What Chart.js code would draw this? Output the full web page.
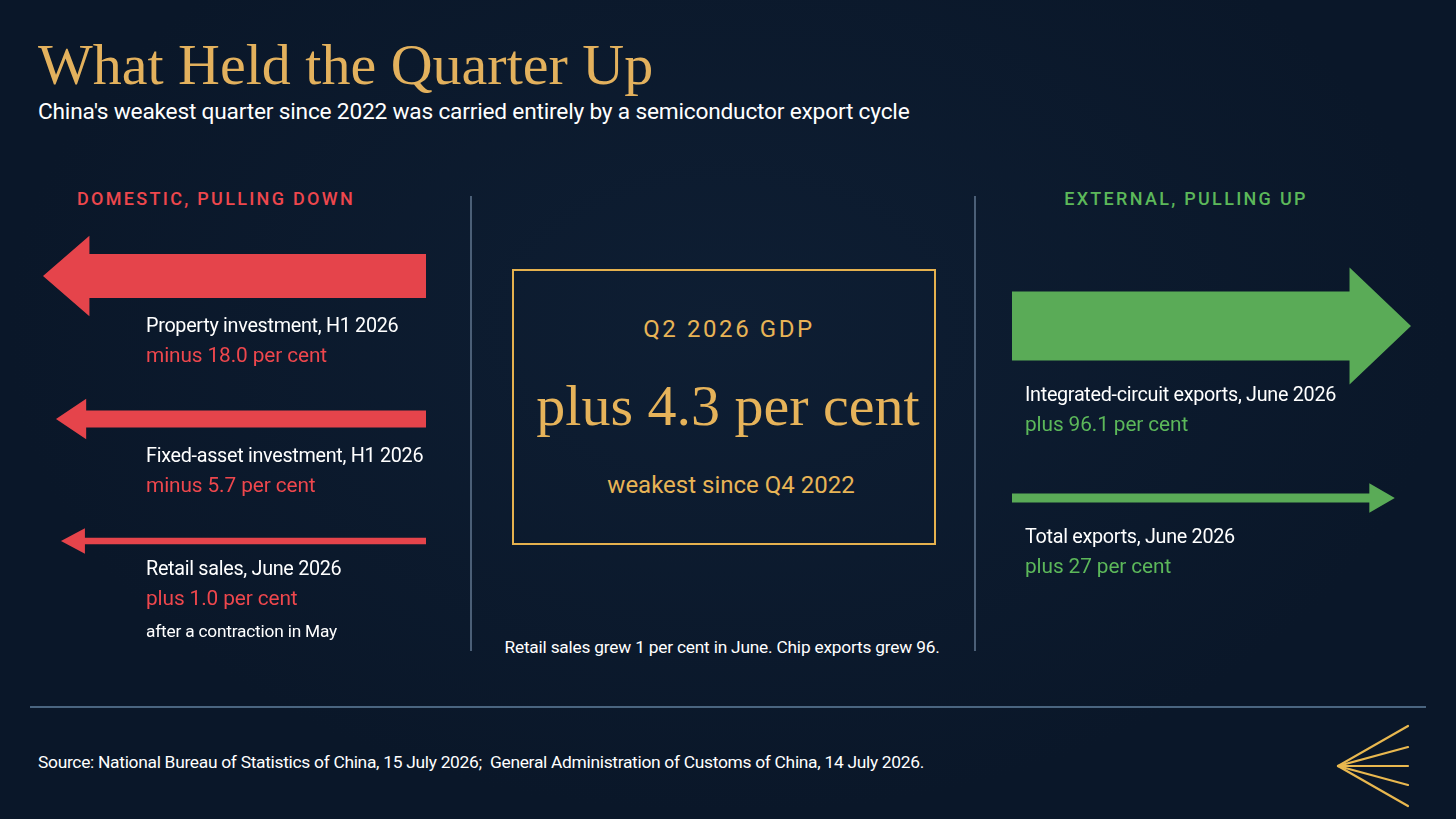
<!DOCTYPE html>
<html>
<head>
<meta charset="utf-8">
<title>What Held the Quarter Up</title>
<script src="https://cdn.jsdelivr.net/npm/chart.js@4.4.1/dist/chart.umd.min.js"></script>
<style>
  html, body { margin: 0; padding: 0; background: #0b192b; }
  #page {
    position: relative; width: 1456px; height: 819px; overflow: hidden;
    background: radial-gradient(ellipse at 50% 40%, #0e1e33 0%, #0a1729 70%, #0a1729 100%);
    font-family: Roboto, "Noto Sans", sans-serif; color: #fff;
  }
  .t { position: absolute; white-space: nowrap; line-height: 1; }
  .title { left: 38px; top: 36px; font-family: "Liberation Serif", "DejaVu Serif", serif; font-size: 58px; color: #e3b15d; }
  .sub { left: 38px; top: 101px; font-size: 22.7px; letter-spacing: -0.2px; }
  .head { top: 190px; font-size: 18px; font-weight: 500; letter-spacing: 2.3px; transform: translateX(-50%); }
  .red { color: #ee474d; }
  .green { color: #5cb85a; }
  .gold { color: #e8b456; }
  .lbl { font-size: 19.8px; letter-spacing: -0.3px; }
  .val { font-size: 20.8px; letter-spacing: -0.1px; }
  .note { font-size: 17.3px; letter-spacing: -0.2px; }
  .rule-v { position: absolute; width: 1.5px; background: #4b5f77; top: 196px; height: 455px; }
  .rule-h { position: absolute; left: 30px; width: 1396px; top: 706px; height: 1.5px; background: #4a6580; }
  .box { position: absolute; left: 512px; top: 269px; width: 420px; height: 272px; border: 2.5px solid #e5b14e; }
  .center { transform: translateX(-50%); }
  .arrow { position: absolute; }
</style>
</head>
<body>
<div id="page">
  <div class="t title">What Held the Quarter Up</div>
  <div class="t sub">China's weakest quarter since 2022 was carried entirely by a semiconductor export cycle</div>

  <div class="t head red" style="left:216px">DOMESTIC, PULLING DOWN</div>
  <div class="t head green" style="left:1186px">EXTERNAL, PULLING UP</div>

  <div class="rule-v" style="left:470px"></div>
  <div class="rule-v" style="left:974px"></div>

  <div class="box"></div>
  <div class="t gold center" style="left:729px; top:317px; font-size:24px; letter-spacing:2.6px;">Q2 2026 GDP</div>
  <div class="t gold center" style="left:728px; top:377px; font-family:'Liberation Serif','DejaVu Serif',serif; font-size:58px; color:#e6b35a;">plus 4.3 per cent</div>
  <div class="t gold center" style="left:731px; top:473px; font-size:24px;">weakest since Q4 2022</div>

  <div class="t note center" style="left:722px; top:639px;">Retail sales grew 1 per cent in June. Chip exports grew 96.</div>

  <div class="rule-h"></div>
  <div class="t note" style="left:38px; top:754px; font-size:17.4px; letter-spacing:-0.3px;">Source: National Bureau of Statistics of China, 15 July 2026;&nbsp; General Administration of Customs of China, 14 July 2026.</div>

  <svg style="position:absolute; left:1330px; top:720px;" width="90" height="95" viewBox="1330 720 90 95">
    <g stroke="#e9b84f" stroke-width="2.2" stroke-linecap="round">
      <line x1="1338" y1="766" x2="1408" y2="726"/>
      <line x1="1338" y1="766" x2="1408" y2="747"/>
      <line x1="1338" y1="766" x2="1408" y2="766"/>
      <line x1="1338" y1="766" x2="1408" y2="785"/>
      <line x1="1338" y1="766" x2="1408" y2="806"/>
    </g>
  </svg>
</div>

<script>
// ----------------- DATA -----------------

const leftLabels = ['Property investment, H1 2026', 'Fixed-asset investment, H1 2026', 'Retail sales, June 2026'];
const leftValues = [-18.0, -5.7, 1.0];
const leftValueText = ['minus 18.0 per cent', 'minus 5.7 per cent', 'plus 1.0 per cent'];
const leftNotes = ['', '', 'after a contraction in May'];

const rightLabels = ['Integrated-circuit exports, June 2026', 'Total exports, June 2026'];
const rightValues = [96.1, 27];
const rightValueText = ['plus 96.1 per cent', 'plus 27 per cent'];

// ----------------- LAYOUT -----------------

// arrow centre y and label top for each row
const leftRows = [{ y: 276, text: 316 }, { y: 419, text: 446 }, { y: 541, text: 559 }];
const rightRows = [{ y: 326, text: 385 }, { y: 498, text: 527 }];

const sides = {
    left: {
        dir: -1, color: '#e5444b', textClass: 'red',
        x: 43, width: 383, textX: 146,
        scaleMin: -2, scaleMax: 172, tipPull: 0.8
    },
    right: {
        dir: 1, color: '#5aab57', textClass: 'green',
        x: 1012, width: 399, textX: 1025,
        scaleMin: 16.5, scaleMax: 476, tipPull: 0.45
    }
};

// ----------------- ARROW PLUGIN -----------------

// bars are drawn as block arrows: shaft thickness comes from the x scale
function thickness(scale, v) {
    return scale.getPixelForValue(Math.abs(v)) - scale.getPixelForValue(scale.min);
}

const arrowPlugin = {
    id: 'arrows',
    afterDatasetsDraw(chart, args, opts) {
        const { ctx, chartArea: a } = chart;
        const x = chart.scales.x;
        const meta = chart.getDatasetMeta(0);
        const maxLen = 20 + 0.6 * thickness(x, opts.maxValue);
        meta.data.forEach((bar, i) => {
            const t = thickness(x, chart.data.datasets[0].data[i]);
            const headLen = 20 + 0.6 * t;
            const half = t / 2 + 8 + 0.23 * t;
            const pull = (maxLen - headLen) * opts.tipPull;
            const y = bar.y;
            let tip, base, tail;
            if (opts.dir < 0) {
                tip = a.left + pull; base = tip + headLen; tail = a.right;
            } else {
                tip = a.right - pull; base = tip - headLen; tail = a.left;
            }
            ctx.save();
            ctx.fillStyle = opts.color;
            ctx.beginPath();
            ctx.moveTo(tail, y - t / 2);
            ctx.lineTo(base, y - t / 2);
            ctx.lineTo(base, y - half);
            ctx.lineTo(tip, y);
            ctx.lineTo(base, y + half);
            ctx.lineTo(base, y + t / 2);
            ctx.lineTo(tail, y + t / 2);
            ctx.closePath();
            ctx.fill();
            ctx.restore();
        });
    }
};

function addText(parent, cls, left, top, text) {
    const d = document.createElement('div');
    d.className = 't ' + cls;
    d.style.left = left + 'px';
    d.style.top = top + 'px';
    d.textContent = text;
    parent.appendChild(d);
}

function buildSide(side, labels, values, valueText, notes, rows) {
    const page = document.getElementById('page');
    const maxValue = Math.max(...values.map(Math.abs));
    labels.forEach((label, i) => {
        const h = 130;
        const canvas = document.createElement('canvas');
        canvas.className = 'arrow';
        canvas.width = side.width;
        canvas.height = h;
        canvas.style.left = side.x + 'px';
        canvas.style.top = (rows[i].y - h / 2) + 'px';
        canvas.style.width = side.width + 'px';
        canvas.style.height = h + 'px';
        page.appendChild(canvas);

        new Chart(canvas.getContext('2d'), {
            type: 'bar',
            data: {
                labels: [label],
                datasets: [{
                    data: [values[i]],
                    backgroundColor: 'rgba(0,0,0,0)',
                    borderWidth: 0
                }]
            },
            options: {
                responsive: false,
                animation: false,
                events: [],
                indexAxis: 'y',
                layout: { padding: 0 },
                plugins: {
                    legend: { display: false },
                    tooltip: { enabled: false },
                    arrows: { dir: side.dir, color: side.color, tipPull: side.tipPull, maxValue: maxValue }
                },
                scales: {
                    x: { display: false, min: side.scaleMin, max: side.scaleMax },
                    y: { display: false }
                }
            },
            plugins: [arrowPlugin]
        });

        const top = rows[i].text;
        addText(page, 'lbl', side.textX, top, label);
        addText(page, 'val ' + side.textClass, side.textX, top + 29, valueText[i]);
        if (notes && notes[i]) addText(page, 'note', side.textX, top + 64, notes[i]);
    });
}

buildSide(sides.left, leftLabels, leftValues, leftValueText, leftNotes, leftRows);
buildSide(sides.right, rightLabels, rightValues, rightValueText, null, rightRows);
</script>
</body>
</html>
